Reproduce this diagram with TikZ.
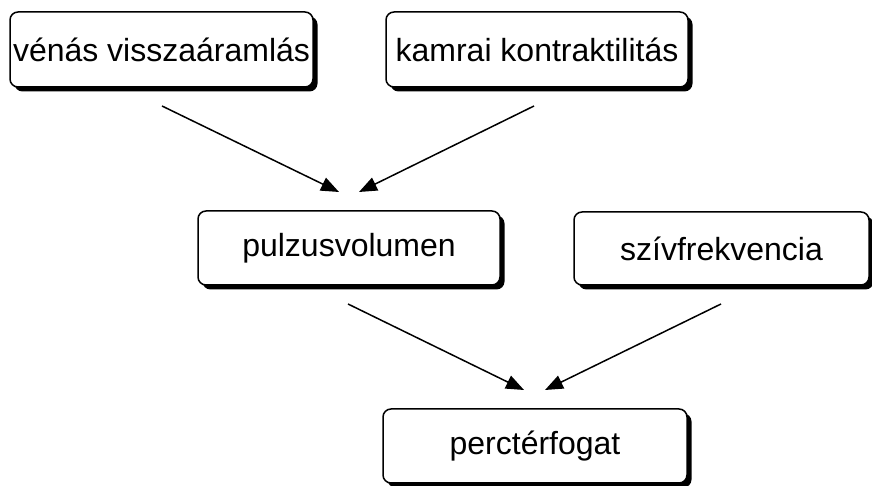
\documentclass[tikz,border=0pt]{standalone}
\usepackage{fontspec}
\setmainfont{Liberation Sans}
\usetikzlibrary{arrows.meta,shadows}
\begin{document}
\begin{tikzpicture}[x=1pt,y=1pt,
  box/.style={draw=black, line width=1.5pt, fill=white, rounded corners=8pt,
    inner sep=0pt, minimum height=75pt, font=\fontsize{32}{36}\selectfont,
    drop shadow={shadow xshift=4.5pt, shadow yshift=-4.5pt, fill=black, opacity=1}},
  link/.style={line width=1.5pt, -{Triangle[length=18pt,width=14pt]}}]
  \useasboundingbox (0,0) rectangle (872,486);
  % factor boxes
  \node[box, minimum width=303pt] (venas) at (161.5,436.5) {vénás visszaáramlás};
  \node[box, minimum width=302pt] (kamrai) at (537,436.5) {kamrai kontraktilitás};
  \node[box, minimum width=302pt, minimum height=74pt] (pulzus) at (349,238) {pulzusvolumen};
  \node[box, minimum width=295pt, minimum height=73pt] (sziv) at (721.5,237.5) {szívfrekvencia};
  \node[box, minimum width=304pt, minimum height=74pt] (perc) at (535,40) {perctérfogat};
  % connector end points
  \coordinate (a1s) at (162,380);
  \coordinate (a1e) at (339,294);
  \coordinate (a2s) at (534,380);
  \coordinate (a2e) at (359,294);
  \coordinate (a3s) at (348,182);
  \coordinate (a3e) at (524,96);
  \coordinate (a4s) at (721,182);
  \coordinate (a4e) at (545,96);
  \draw[link] (a1s) -- (a1e);
  \draw[link] (a2s) -- (a2e);
  \draw[link] (a3s) -- (a3e);
  \draw[link] (a4s) -- (a4e);
\end{tikzpicture}
\end{document}
